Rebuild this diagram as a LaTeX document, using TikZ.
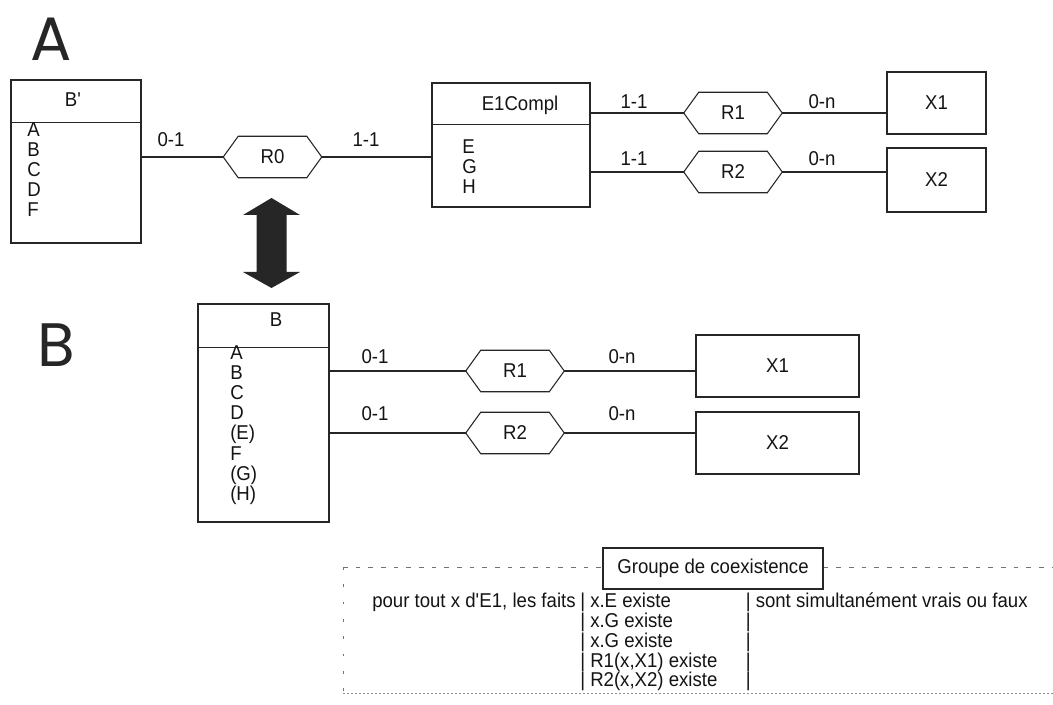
\documentclass[tikz,border=0pt]{standalone}
\usepackage{fontspec}
\setmainfont{Liberation Sans}[FakeStretch=0.93]
\newfontfamily\bigletters{Poppins}
\usetikzlibrary{calc}
\newcommand\hexframe[1]{\draw[lnk] (#1.west) -- ([xshift=11.25pt]#1.north west) -- ([xshift=-11.25pt]#1.north east) -- (#1.east) -- ([xshift=-11.25pt]#1.south east) -- ([xshift=11.25pt]#1.south west) -- cycle;}
\tikzset{
  every node/.style={font=\fontsize{15}{17}\selectfont, text=black!92},
  ent/.style 2 args={draw=black!85, line width=0.8pt, minimum width=#1*0.75pt, minimum height=#2*0.75pt, inner sep=0pt},
  rel/.style={minimum width=73.5pt, minimum height=30.75pt, inner sep=0pt},
  lnk/.style={draw=black!85, line width=0.8pt},
  card/.style={inner sep=0pt},
  attr/.style={inner sep=0pt, anchor=base west},
  ttl/.style={inner sep=0pt, anchor=base},
  bigl/.style={inner sep=0pt, font=\bigletters\fontsize{46}{46}\selectfont, text=black!85},
  frame/.style={draw=black!55, line width=0.6pt, dash pattern=on 3.5pt off 6pt},
  framev/.style={draw=black!55, line width=0.6pt, dash pattern=on 2pt off 11pt},
  frameb/.style={draw=black!45, line width=0.6pt, dash pattern=on 1.2pt off 1.8pt},
}
\begin{document}
\begin{tikzpicture}[x=0.75pt,y=-0.75pt]
\fill[white] (0,0) rectangle (1053,705);
\useasboundingbox (0,0) rectangle (1053,705);

% ---------- part A ----------
\node[bigl] (lblA) at (51,39) {A};

\node[ent={130}{163}] (Bp) at (76,161.5) {};
\draw[lnk] ([yshift=-32.25pt]Bp.north west) -- ([yshift=-32.25pt]Bp.north east);
\node[ttl] (Bpt) at (73,107) {B\textquotesingle};
\foreach \t [count=\i] in {A,B,C,D,F}
  \node[attr] (bpa\i) at (27,116.5+20*\i) {\t};

\node[rel] (R0) at (272.5,157) {R0};
\hexframe{R0}

\node[ent={158}{124}] (E1) at (511,145) {};
\draw[lnk] ([yshift=-31.5pt]E1.north west) -- ([yshift=-31.5pt]E1.north east);
\node[ttl] (E1t) at (520,111) {E1Compl};
\foreach \t [count=\i] in {E,G,H}
  \node[attr] (e1a\i) at (462,133.5+20*\i) {\t};

\node[rel] (R1) at (733,113) {R1};
\hexframe{R1}
\node[rel] (R2) at (733,172) {R2};
\hexframe{R2}

\node[ent={99}{62}] (X1) at (936.5,103) {X1};
\node[ent={99}{64}] (X2) at (936.5,180) {X2};

\draw[lnk] (R0.west -| Bp.east) -- (R0.west);
\draw[lnk] (R0.east) -- (R0.east -| E1.west);
\draw[lnk] (R1.west -| E1.east) -- (R1.west);
\draw[lnk] (R1.east) -- (R1.east -| X1.west);
\draw[lnk] (R2.west -| E1.east) -- (R2.west);
\draw[lnk] (R2.east) -- (R2.east -| X2.west);

\node[card] (c01) at (171,140) {0-1};
\node[card] (c02) at (366,140) {1-1};
\node[card] (c03) at (634,102) {1-1};
\node[card] (c04) at (634,159) {1-1};
\node[card] (c05) at (822,102) {0-n};
\node[card] (c06) at (822,159) {0-n};

% ---------- double arrow ----------
\fill[black!85] (271.5,198) -- (300,215) -- (286.5,215) -- (286.5,272) -- (300,272)
  -- (271.5,288) -- (243,272) -- (256.5,272) -- (256.5,215) -- (243,215) -- cycle;

% ---------- part B ----------
\node[bigl] (lblB) at (56,345) {B};

\node[ent={131}{218}] (Bb) at (263.5,413) {};
\draw[lnk] ([yshift=-33pt]Bb.north west) -- ([yshift=-33pt]Bb.north east);
\node[ttl] (Bbt) at (276,327) {B};
\foreach \t [count=\i] in {A,B,C,D,(E),F,(G),(H)}
  \node[attr] (bba\i) at (230,339+20.2*\i) {\t};

\node[rel] (S1) at (515,371) {R1};
\hexframe{S1}
\node[rel] (S2) at (515,433) {R2};
\hexframe{S2}

\node[ent={163}{62}] (Y1) at (777.5,366) {X1};
\node[ent={163}{62}] (Y2) at (777.5,443) {X2};

\draw[lnk] (S1.west -| Bb.east) -- (S1.west);
\draw[lnk] (S1.east) -- (S1.east -| Y1.west);
\draw[lnk] (S2.west -| Bb.east) -- (S2.west);
\draw[lnk] (S2.east) -- (S2.east -| Y2.west);

\node[card] (d01) at (375,357) {0-1};
\node[card] (d02) at (375,414) {0-1};
\node[card] (d03) at (622,357) {0-n};
\node[card] (d04) at (622,414) {0-n};

% ---------- coexistence group ----------
\node[ent={220}{41}] (Grp) at (713,568.5) {Groupe de coexistence};
\coordinate (fl) at (343,567);
\coordinate (fr) at (1053,567);
\coordinate (fb) at (343,705);
\coordinate (gl) at (343,693);
\coordinate (gr) at (1053,693);
\draw[frame] (fl) -- (fl -| Grp.west);
\draw[frame] (Grp.east |- fr) -- (fr);
\draw[framev] (fl) -- (fb);
\draw[frameb] (gl) -- (gr);

\node[attr] (t0) at (372,607) {pour tout x d\textquotesingle E1, les faits};
\node[attr] (t1) at (580,607) {| x.E existe};
\node[attr] (t2) at (580,627) {| x.G existe};
\node[attr] (t3) at (580,647) {| x.G existe};
\node[attr] (t4) at (580,667) {| R1(x,X1) existe};
\node[attr] (t5) at (580,686) {| R2(x,X2) existe};
\node[attr] (u1) at (745.5,607) {| sont simultanément vrais ou faux};
\node[attr] (u2) at (745.5,627) {|};
\node[attr] (u3) at (745.5,647) {|};
\node[attr] (u4) at (745.5,667) {|};
\node[attr] (u5) at (745.5,686) {|};
\end{tikzpicture}
\end{document}
